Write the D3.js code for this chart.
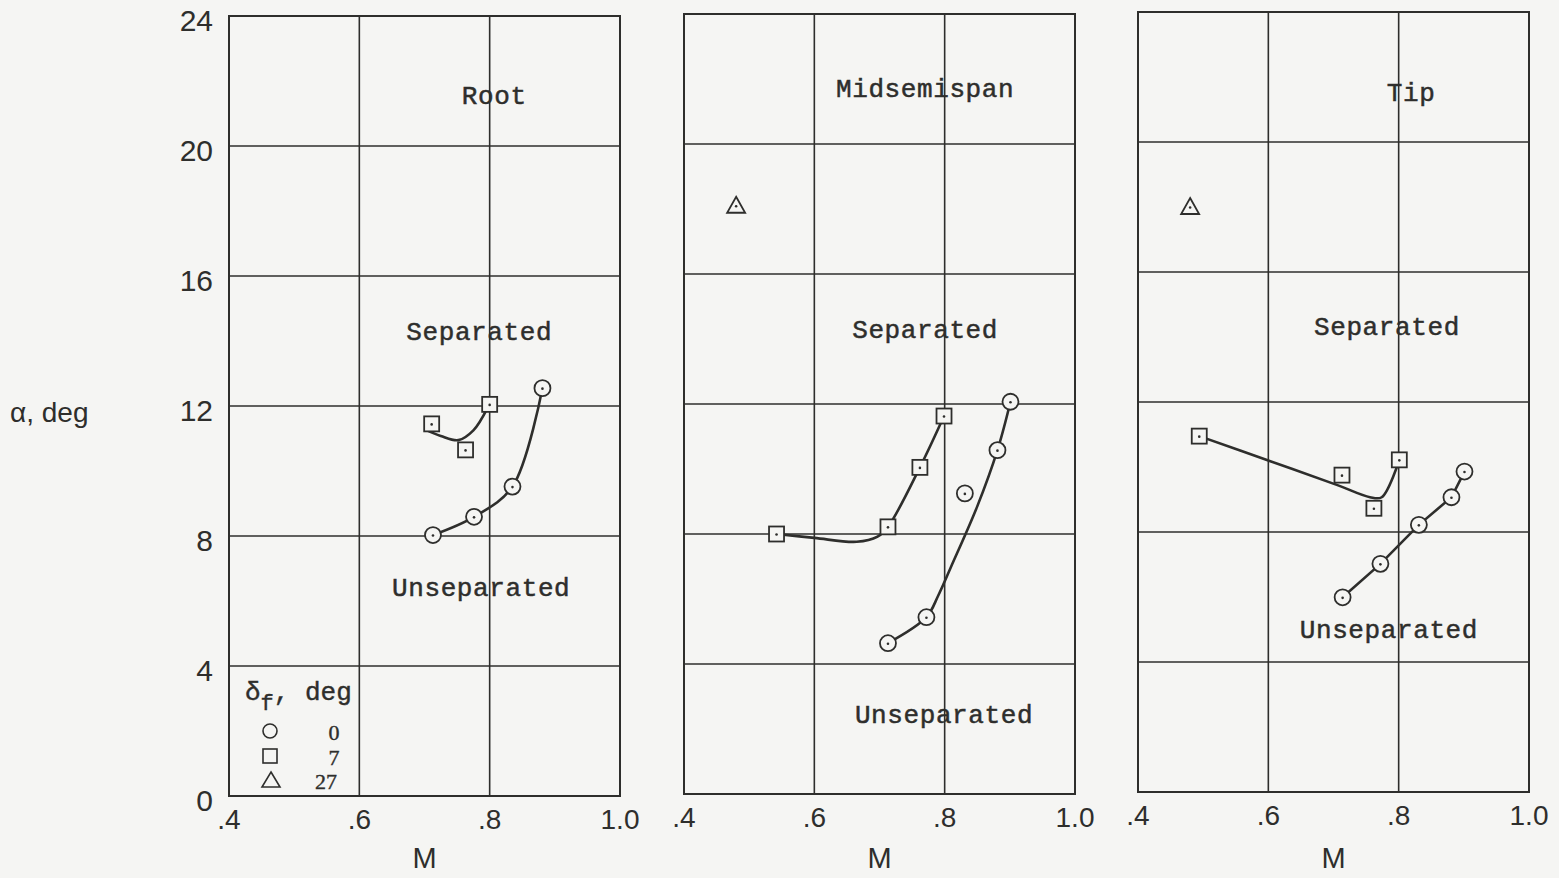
<!DOCTYPE html>
<html>
<head>
<meta charset="utf-8">
<script src="https://cdn.jsdelivr.net/npm/d3@7"></script>
<style>
  html, body { margin: 0; padding: 0; background: #f5f5f3; }
  svg { display: block; }
</style>
</head>
<body>
<svg id="chart" width="1559" height="878"></svg>
<script>
// Flow-separation boundaries: angle of attack vs Mach number at three spanwise stations
const stations = ["Root", "Midsemispan", "Tip"];
const mTicks = [0.4, 0.6, 0.8, 1.0];
const mTickLabels = [".4", ".6", ".8", "1.0"];
const alphaTicks = [0, 4, 8, 12, 16, 20, 24];
const flapDeflections = ["0", "7", "27"];

// Test points, [M, alpha], delta_f = 0 (circles)
const rootFlap0 = [[0.713, 8.03], [0.776, 8.59], [0.835, 9.52], [0.881, 12.55]];
const midFlap0 = [[0.713, 4.64], [0.772, 5.44], [0.831, 9.25], [0.881, 10.58], [0.901, 12.07]];
const tipFlap0 = [[0.714, 5.99], [0.772, 7.02], [0.831, 8.22], [0.881, 9.07], [0.901, 9.86]];

// delta_f = 7 (squares)
const rootFlap7 = [[0.711, 11.45], [0.763, 10.65], [0.800, 12.05]];
const midFlap7 = [[0.542, 8.0], [0.713, 8.22], [0.762, 10.05], [0.799, 11.63]];
const tipFlap7 = [[0.494, 10.95], [0.713, 9.75], [0.762, 8.73], [0.801, 10.22]];

// delta_f = 27 (triangles)
const rootFlap27 = [];
const midFlap27 = [[0.48, 18.1]];
const tipFlap27 = [[0.48, 18.0]];

// Faired boundary curves
const rootCurve0 = [[0.713, 8.03], [0.776, 8.59], [0.835, 9.52], [0.881, 12.55]];
const rootCurve7 = [[0.700, 11.28], [0.725, 11.08], [0.752, 10.95], [0.775, 11.25], [0.797, 11.95]];
const midCurve0 = [[0.713, 4.64], [0.772, 5.44], [0.79, 6.1], [0.81, 7.0], [0.85, 8.85], [0.881, 10.58], [0.901, 12.07]];
const midCurve7 = [[0.542, 8.0], [0.60, 7.88], [0.665, 7.76], [0.697, 7.92], [0.713, 8.22], [0.762, 10.05], [0.799, 11.63]];
const tipCurve0 = [[0.714, 5.99], [0.772, 7.02], [0.831, 8.22], [0.881, 9.07], [0.901, 9.86]];
const tipCurve7 = [[0.494, 10.95], [0.60, 10.2], [0.705, 9.45], [0.756, 9.07], [0.774, 9.07], [0.801, 10.22]];

// Region labels, [M, alpha] anchor of each text
const titleAnchors = [[0.807, 21.29], [0.770, 21.45], [0.819, 21.26]];
const separatedAnchors = [[0.784, 14.03], [0.770, 14.03], [0.782, 14.06]];
const unseparatedAnchors = [[0.787, 6.15], [0.799, 2.18], [0.785, 4.74]];

const panelData = [
  { flap0: rootFlap0, flap7: rootFlap7, flap27: rootFlap27, curve0: rootCurve0, curve7: rootCurve7, curve0Type: "smooth" },
  { flap0: midFlap0, flap7: midFlap7, flap27: midFlap27, curve0: midCurve0, curve7: midCurve7, curve0Type: "smooth" },
  { flap0: tipFlap0, flap7: tipFlap7, flap27: tipFlap27, curve0: tipCurve0, curve7: tipCurve7, curve0Type: "linear" }
];

// Layout
const panelLayout = [
  { left: 229, top: 16 },
  { left: 684, top: 14 },
  { left: 1138, top: 12 }
];
const panelW = 391, panelH = 780;
const ink = "#2e2e2c";
const bg = "#f5f5f3";
const typeFont = "'Liberation Mono', 'Courier New', monospace";
const axisFont = "'Liberation Sans', 'DejaVu Sans', sans-serif";

const svg = d3.select("#chart");
svg.append("rect").attr("width", 1559).attr("height", 878).attr("fill", bg);

panelLayout.forEach((pl, i) => {
  const x = d3.scaleLinear().domain([0.4, 1.0]).range([pl.left, pl.left + panelW]);
  const y = d3.scaleLinear().domain([0, 24]).range([pl.top + panelH, pl.top]);
  const g = svg.append("g");
  const d = panelData[i];

  // grid
  g.selectAll("line.h").data(alphaTicks.filter(v => v > 0 && v < 24)).join("line")
    .attr("x1", x(0.4)).attr("x2", x(1.0))
    .attr("y1", v => y(v)).attr("y2", v => y(v))
    .attr("stroke", ink).attr("stroke-width", 1.6);
  g.selectAll("line.v").data(mTicks.filter(v => v > 0.4 && v < 1.0)).join("line")
    .attr("x1", v => x(v)).attr("x2", v => x(v))
    .attr("y1", y(0)).attr("y2", y(24))
    .attr("stroke", ink).attr("stroke-width", 1.6);
  g.append("rect")
    .attr("x", x(0.4)).attr("y", y(24))
    .attr("width", x(1.0) - x(0.4)).attr("height", y(0) - y(24))
    .attr("fill", "none").attr("stroke", ink).attr("stroke-width", 2);

  // M axis labels
  g.selectAll("text.mt").data(mTicks).join("text")
    .attr("x", v => x(v)).attr("y", y(0) + 33)
    .attr("text-anchor", "middle")
    .attr("font-family", axisFont).attr("font-size", 28).attr("fill", ink)
    .text((v, k) => mTickLabels[k]);
  g.append("text")
    .attr("x", x(0.7)).attr("y", 868)
    .attr("text-anchor", "middle")
    .attr("font-family", axisFont).attr("font-size", 29).attr("fill", ink)
    .text("M");

  // alpha axis labels on the first panel
  if (i === 0) {
    g.selectAll("text.at").data(alphaTicks).join("text")
      .attr("x", pl.left - 16).attr("y", v => y(v) + 15)
      .attr("text-anchor", "end")
      .attr("font-family", axisFont).attr("font-size", 30).attr("fill", ink)
      .text(v => String(v));
    svg.append("text")
      .attr("x", 10).attr("y", 422)
      .attr("font-family", axisFont).attr("font-size", 28).attr("fill", ink)
      .text("α, deg");
  }

  // curves
  const smooth = d3.line().x(p => x(p[0])).y(p => y(p[1])).curve(d3.curveCatmullRom.alpha(0.5));
  const linear = d3.line().x(p => x(p[0])).y(p => y(p[1]));
  g.append("path").attr("d", (d.curve0Type === "linear" ? linear : smooth)(d.curve0))
    .attr("fill", "none").attr("stroke", ink).attr("stroke-width", 2.6);
  g.append("path").attr("d", smooth(d.curve7))
    .attr("fill", "none").attr("stroke", ink).attr("stroke-width", 2.6);

  // markers
  const mk = g.append("g").attr("stroke", ink).attr("stroke-width", 1.8).attr("fill", bg);
  mk.selectAll("circle.c").data(d.flap0).join("circle")
    .attr("cx", p => x(p[0])).attr("cy", p => y(p[1])).attr("r", 8);
  mk.selectAll("rect.s").data(d.flap7).join("rect")
    .attr("x", p => x(p[0]) - 7.5).attr("y", p => y(p[1]) - 7.5)
    .attr("width", 15).attr("height", 15);
  mk.selectAll("path.t").data(d.flap27).join("path")
    .attr("d", p => {
      const cx = x(p[0]), cy = y(p[1]);
      return `M${cx},${cy - 9}L${cx + 9},${cy + 7}L${cx - 9},${cy + 7}Z`;
    });
  const dots = [].concat(d.flap0, d.flap7, d.flap27);
  g.selectAll("circle.dot").data(dots).join("circle")
    .attr("cx", p => x(p[0])).attr("cy", p => y(p[1]) + 0.5).attr("r", 1.3).attr("fill", ink);

  // region labels
  const lbl = (anchor, text) => g.append("text")
    .attr("x", x(anchor[0])).attr("y", y(anchor[1]))
    .attr("text-anchor", "middle")
    .attr("font-family", typeFont).attr("font-size", 26).attr("letter-spacing", 0.6)
    .attr("fill", ink).attr("stroke", ink).attr("stroke-width", 0.5)
    .text(text);
  lbl(titleAnchors[i], stations[i]);
  lbl(separatedAnchors[i], "Separated");
  lbl(unseparatedAnchors[i], "Unseparated");
});

// legend
const lg = svg.append("g").attr("font-family", typeFont).attr("fill", ink)
  .attr("stroke", ink).attr("stroke-width", 0.4);
const legendHead = lg.append("text").attr("x", 245).attr("y", 700).attr("font-size", 26);
legendHead.append("tspan").text("δ");
legendHead.append("tspan").attr("font-size", 22).attr("dy", 10).text("f");
legendHead.append("tspan").attr("dy", -10).text(", deg");
const legendRows = [731, 756, 780];
const lsym = lg.append("g").attr("stroke", ink).attr("stroke-width", 1.6).attr("fill", "none");
lsym.append("circle").attr("cx", 270).attr("cy", legendRows[0]).attr("r", 7);
lsym.append("rect").attr("x", 263).attr("y", legendRows[1] - 7).attr("width", 14).attr("height", 14);
lsym.append("path").attr("d", `M271,${legendRows[2] - 8}L280,${legendRows[2] + 7}L262,${legendRows[2] + 7}Z`);
lg.selectAll("text.v").data(flapDeflections).join("text")
  .attr("x", (v, k) => k === 2 ? 326 : 334).attr("y", (v, k) => legendRows[k] + 9)
  .attr("text-anchor", "middle").attr("font-size", 22)
  .attr("font-family", "'Liberation Serif', serif")
  .text(v => v);
</script>
</body>
</html>
